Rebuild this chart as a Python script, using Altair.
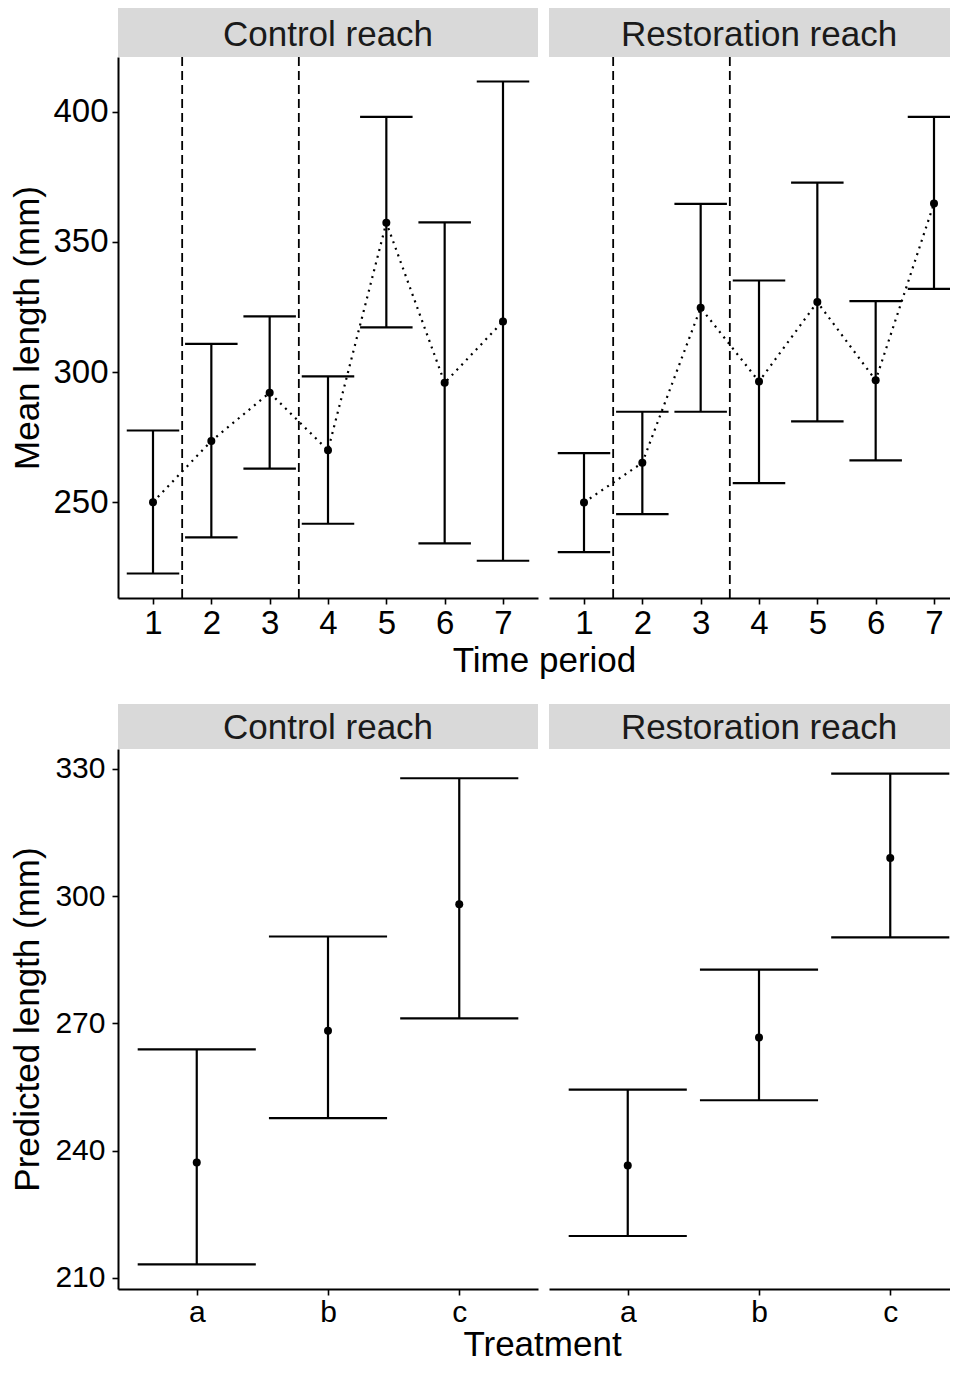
import altair as alt
import pandas as pd

FONT = "Liberation Sans"

# ---- Top row: mean length by time period ----
periods = [1, 2, 3, 4, 5, 6, 7]
control_mean = [250.1, 273.6, 292.1, 270.0, 357.4, 295.9, 319.5]
control_lower = [222.7, 236.6, 263.0, 241.8, 317.2, 234.3, 227.6]
control_upper = [277.6, 310.9, 321.4, 298.4, 398.0, 357.5, 411.6]
restor_mean = [250.0, 265.2, 324.7, 296.4, 326.9, 296.9, 364.8]
restor_lower = [230.9, 245.5, 284.8, 257.4, 281.1, 266.1, 332.0]
restor_upper = [268.9, 284.8, 364.6, 335.2, 372.8, 327.3, 398.0]
period_breaks = [1.5, 3.5]
top_y_ticks = [250, 300, 350, 400]

# ---- Bottom row: predicted length by treatment ----
treatments = ["a", "b", "c"]
control_pred = [237.2, 268.3, 298.1]
control_pred_lower = [213.2, 247.7, 271.2]
control_pred_upper = [263.9, 290.5, 327.8]
restor_pred = [236.5, 266.7, 309.0]
restor_pred_lower = [219.9, 251.9, 290.3]
restor_pred_upper = [254.4, 282.7, 328.9]
bot_y_ticks = [210, 240, 270, 300, 330]

panel_labels = ["Control reach", "Restoration reach"]

TOP_Y = [213.3, 421.0]
BOT_Y = [207.4, 334.7]
LEFT_W = 420
RIGHT_W = 401
TOP_H = 541
BOT_H = 540
TOP_STEP = LEFT_W / 7.2
BOT_STEP = LEFT_W / 3.2
CAP = 0.45


def strip(label, width, strip_h, base_off):
    df = pd.DataFrame({"label": [label]})
    rect = alt.Chart(df).mark_rect(color="#d9d9d9").encode(
        x=alt.value(0), x2=alt.value(width), y=alt.value(-strip_h), y2=alt.value(0)
    )
    text = alt.Chart(df).mark_text(
        font=FONT, fontSize=35, color="#1a1a1a", baseline="alphabetic", align="center"
    ).encode(x=alt.value(210), y=alt.value(-base_off), text="label:N")
    return [rect, text]


def panel(df, xfield, xs, ys, xaxis, yaxis, width, height, label, strip_h, base_off,
          breaks=None, connect=False):
    X = alt.X(f"{xfield}:Q", scale=xs, axis=xaxis)
    base = alt.Chart(df).transform_calculate(
        xl=f"datum.{xfield} - {CAP}", xr=f"datum.{xfield} + {CAP}"
    )
    layers = []
    if breaks is not None:
        layers.append(
            alt.Chart(pd.DataFrame({"brk": breaks})).mark_rule(
                color="black", strokeWidth=1.8, strokeDash=[9, 5]
            ).encode(x=alt.X("brk:Q", scale=xs, axis=xaxis))
        )
    if connect:
        layers.append(
            base.mark_line(color="black", strokeWidth=2.2, strokeDash=[2, 5], clip=True).encode(
                x=X, y=alt.Y("mean:Q", scale=ys, axis=yaxis)
            )
        )
    layers.append(
        base.mark_rule(color="black", strokeWidth=2.2, clip=True).encode(
            x=X, y=alt.Y("lower:Q", scale=ys, axis=yaxis), y2="upper:Q"
        )
    )
    for f in ["upper", "lower"]:
        layers.append(
            base.mark_rule(color="black", strokeWidth=2.2, clip=True).encode(
                x=alt.X("xl:Q", scale=xs, axis=xaxis), x2="xr:Q",
                y=alt.Y(f"{f}:Q", scale=ys, axis=yaxis)
            )
        )
    layers.append(
        base.mark_circle(color="black", size=64, opacity=1, clip=True).encode(
            x=X, y=alt.Y("mean:Q", scale=ys, axis=yaxis)
        )
    )
    layers += strip(label, width, strip_h, base_off)
    return alt.layer(*layers).properties(width=width, height=height)


def top(label, mean, lower, upper, width, left):
    df = pd.DataFrame({"period": periods, "mean": mean, "lower": lower, "upper": upper})
    xs = alt.Scale(domain=[0.4, 0.4 + width / TOP_STEP], nice=False, zero=False)
    ys = alt.Scale(domain=TOP_Y, nice=False, zero=False)
    if left:
        xaxis = alt.Axis(values=periods, format="d", title="Time period", titleX=426,
                         titleAlign="center", titlePadding=3, labelFontSize=33, titleFontSize=35)
        yaxis = alt.Axis(values=top_y_ticks, title="Mean length (mm)", labelFontSize=33,
                         titleFontSize=35, labelPadding=4, titlePadding=7)
    else:
        xaxis = alt.Axis(values=periods, format="d", title=None, labelFontSize=33)
        yaxis = None
    return panel(df, "period", xs, ys, xaxis, yaxis, width, TOP_H, label, 49, 11,
                 breaks=period_breaks, connect=True)


def bottom(label, pred, lower, upper, width, left):
    df = pd.DataFrame({"treatment": treatments, "pos": list(range(1, len(treatments) + 1)),
                       "mean": pred, "lower": lower, "upper": upper})
    xs = alt.Scale(domain=[0.4, 0.4 + width / BOT_STEP], nice=False, zero=False)
    ys = alt.Scale(domain=BOT_Y, nice=False, zero=False)
    label_expr = "[" + ",".join(f"'{t}'" for t in treatments) + "][datum.value - 1]"
    if left:
        xaxis = alt.Axis(values=list(range(1, len(treatments) + 1)), labelExpr=label_expr,
                         title="Treatment", titleX=424, titleAlign="center", titlePadding=0,
                         labelFontSize=30, titleFontSize=35, labelPadding=2)
        yaxis = alt.Axis(values=bot_y_ticks, title="Predicted length (mm)", labelFontSize=30,
                         titleFontSize=35, labelPadding=7, titlePadding=9)
    else:
        xaxis = alt.Axis(values=list(range(1, len(treatments) + 1)), labelExpr=label_expr,
                         title=None, labelFontSize=30, labelPadding=2)
        yaxis = None
    return panel(df, "pos", xs, ys, xaxis, yaxis, width, BOT_H, label, 45, 10)


tl = top(panel_labels[0], control_mean, control_lower, control_upper, LEFT_W, True)
tr = top(panel_labels[1], restor_mean, restor_lower, restor_upper, RIGHT_W, False)
bl = bottom(panel_labels[0], control_pred, control_pred_lower, control_pred_upper, LEFT_W, True)
br = bottom(panel_labels[1], restor_pred, restor_pred_lower, restor_pred_upper, RIGHT_W, False)

chart = alt.concat(
    tl, tr, bl, br, columns=2, spacing={"row": 151, "column": 11}, bounds="flush"
).properties(
    padding={"left": 2, "top": 0, "right": 0, "bottom": 0}
).configure_view(
    stroke=None
).configure_axis(
    grid=False, domainColor="black", domainWidth=2, tickColor="black", tickWidth=1.6,
    tickSize=6, labelColor="black", titleColor="black", labelFont=FONT, titleFont=FONT,
    titleFontWeight="normal", labelPadding=3
)

chart.save("out.html", embed_options={"renderer": "svg", "actions": False})
